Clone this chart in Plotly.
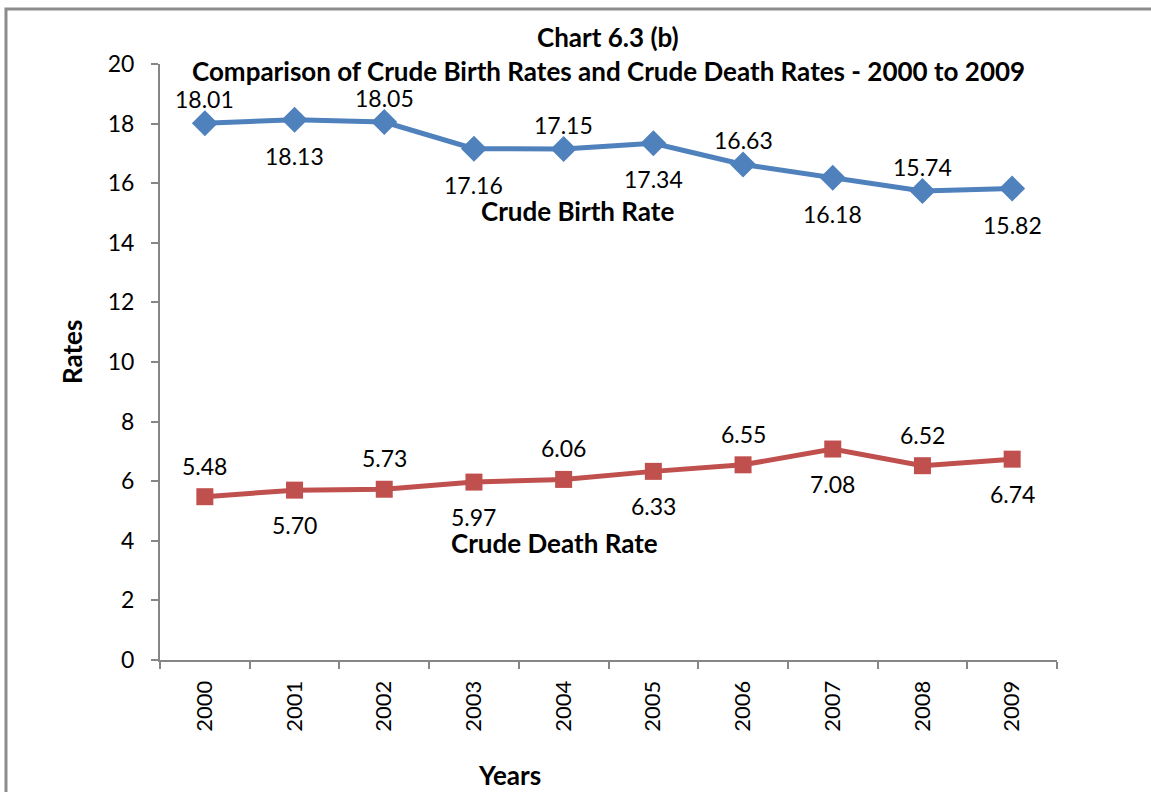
import plotly.graph_objects as go

years = ["2000", "2001", "2002", "2003", "2004", "2005", "2006", "2007", "2008", "2009"]
birth_rate = [18.01, 18.13, 18.05, 17.16, 17.15, 17.34, 16.63, 16.18, 15.74, 15.82]
death_rate = [5.48, 5.70, 5.73, 5.97, 6.06, 6.33, 6.55, 7.08, 6.52, 6.74]

title_line1 = "Chart 6.3 (b)"
title_line2 = "Comparison of Crude Birth Rates and Crude Death Rates - 2000 to 2009"

FONT = "Lato"
BLUE = "#4F81BD"
RED = "#C0504D"
GRID = "#868686"
LBL = 23
BOLD = 26

fig = go.Figure()
fig.add_trace(go.Scatter(x=years, y=birth_rate, mode="lines+markers", name="Crude Birth Rate",
                         line=dict(color=BLUE, width=5),
                         marker=dict(symbol="diamond", size=20, color=BLUE)))
fig.add_trace(go.Scatter(x=years, y=death_rate, mode="lines+markers", name="Crude Death Rate",
                         line=dict(color=RED, width=5),
                         marker=dict(symbol="square", size=17, color=RED)))

annotations = []
for i, v in enumerate(birth_rate):
    annotations.append(dict(x=i, y=v, xref="x", yref="y", text=f"{v:.2f}", showarrow=False,
                            xanchor="center", yanchor="middle",
                            yshift=24 if i % 2 == 0 else -36,
                            font=dict(family=FONT, size=LBL, color="black")))
for i, v in enumerate(death_rate):
    annotations.append(dict(x=i, y=v, xref="x", yref="y", text=f"{v:.2f}", showarrow=False,
                            xanchor="center", yanchor="middle",
                            yshift=31 if i % 2 == 0 else -35,
                            font=dict(family=FONT, size=LBL, color="black")))

def txt(x, y, text, xref="paper", yref="paper", angle=0):
    return dict(x=x, y=y, xref=xref, yref=yref, text=f"<b>{text}</b>", showarrow=False,
                xanchor="center", yanchor="middle", textangle=angle,
                font=dict(family=FONT, size=BOLD, color="black"))

annotations += [
    txt(0.4995, 1.0453, title_line1),
    txt(0.4995, 0.989, title_line2),
    txt(0.465, 15.08, "Crude Birth Rate", yref="y"),
    txt(0.440, 3.92, "Crude Death Rate", yref="y"),
    txt(-0.0981, 0.5168, "Rates", angle=-90),
    txt(0.390, -0.193, "Years"),
]

fig.update_layout(
    width=1151, height=792,
    margin=dict(l=160, r=94, t=64, b=132),
    paper_bgcolor="white", plot_bgcolor="white",
    showlegend=False,
    annotations=annotations,
    shapes=[dict(type="rect", xref="paper", yref="paper", x0=-0.1717, x1=1.3, y0=-0.4, y1=1.0923,
                 line=dict(color="#8c8c8c", width=3), fillcolor="rgba(0,0,0,0)", layer="below")],
    font=dict(family=FONT, size=22, color="black"),
)
fig.update_xaxes(type="category", tickson="boundaries", ticks="outside", ticklen=7, tickwidth=2,
                 tickcolor=GRID, showline=True, linecolor=GRID, linewidth=2, showgrid=False,
                 tickangle=-90, ticklabelstandoff=10, tickfont=dict(family=FONT, size=22, color="black"),
                 range=[-0.5, 9.5])
fig.update_yaxes(range=[0, 20], dtick=2, ticks="outside", ticklen=7, tickwidth=2, tickcolor=GRID,
                 showline=True, linecolor=GRID, linewidth=2, showgrid=False, zeroline=False,
                 ticklabelstandoff=12, tickfont=dict(family=FONT, size=23, color="black"))

fig.write_html("out.html", config={"displayModeBar": False},
               post_script="document.body.style.margin='0';document.body.style.overflow='hidden';")
